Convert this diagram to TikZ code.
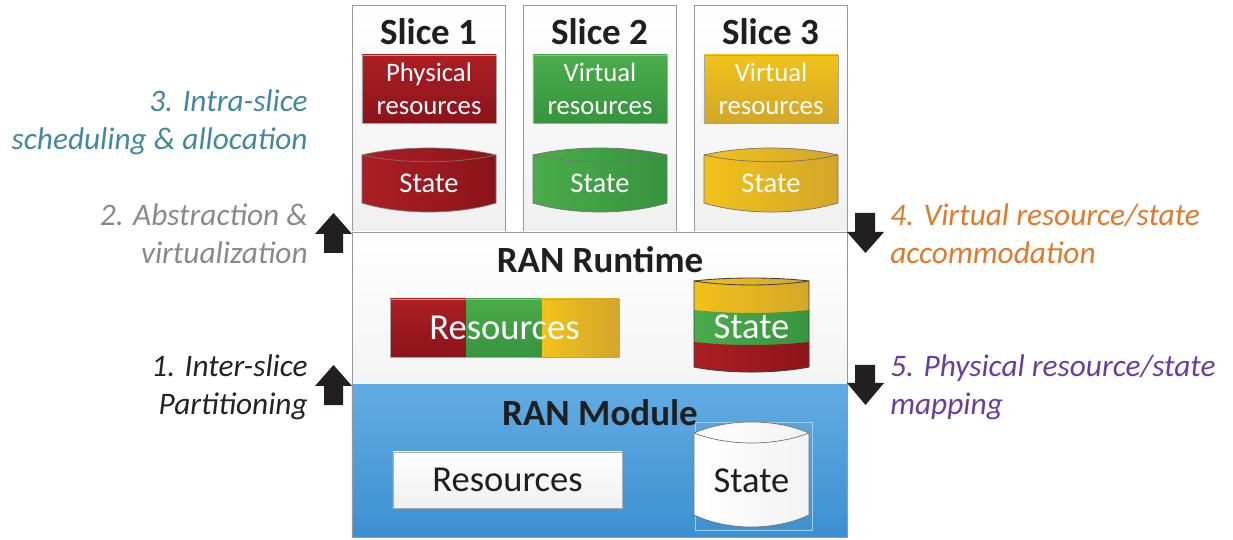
\documentclass[tikz,border=0pt]{standalone}
\usepackage{fontspec}
\setmainfont{Carlito}

\definecolor{rdA}{RGB}{172,30,36}
\definecolor{rdB}{RGB}{138,20,26}
\definecolor{grA}{RGB}{74,172,74}
\definecolor{grB}{RGB}{54,148,62}
\definecolor{yeA}{RGB}{242,194,26}
\definecolor{yeB}{RGB}{210,166,42}
\definecolor{blA}{RGB}{98,172,228}
\definecolor{blB}{RGB}{60,144,208}
\definecolor{arrowc}{RGB}{35,31,32}
\definecolor{tealc}{RGB}{66,136,160}
\definecolor{grayc}{RGB}{138,138,138}
\definecolor{darkc}{RGB}{35,35,35}
\definecolor{orangec}{RGB}{226,121,42}
\definecolor{purplec}{RGB}{106,62,160}

\begin{document}
\begin{tikzpicture}[
  x=0.025cm,y=0.025cm,
  slicebox/.style={rectangle,draw=gray!80,line width=0.6pt,top color=white,bottom color=gray!12,
                   minimum width=38.25mm,minimum height=56.75mm,inner sep=0},
  layer/.style={rectangle,draw=gray!80,line width=0.6pt,minimum width=123.75mm,inner sep=0},
  ttl/.style={font=\fontsize{26.3}{30}\selectfont\bfseries,text=black!88,inner sep=0,anchor=base},
  resbox/.style={rectangle,draw=gray!70,line width=0.5pt,minimum width=33.5mm,minimum height=17mm,
                 align=center,text=white,font=\fontsize{19}{23.5}\selectfont,inner sep=0},
  bigtxt/.style={font=\fontsize{26}{30}\selectfont,inner sep=0},
  smalltxt/.style={font=\fontsize{20.3}{24}\selectfont,inner sep=0,anchor=base,text=white},
  lbl/.style={font=\fontsize{22.3}{27}\selectfont\itshape,inner sep=0},
  cylline/.style={draw=black!55,line width=0.5pt},
  blockarr/.style={fill=arrowc},
]
\useasboundingbox (0,0) rectangle (1233,539);

% the three slices
\node[slicebox] (slice1) at (428.5,420.5) {};
\node[slicebox] (slice2) at (599.5,420.5) {};
\node[slicebox] (slice3) at (770.5,420.5) {};
\node[ttl] (ttl1) at (428.5,494) {Slice 1};
\node[ttl] (ttl2) at (599.5,494) {Slice 2};
\node[ttl] (ttl3) at (770.5,494) {Slice 3};

\node[resbox,top color=rdA,bottom color=rdB] (res1) at (429,450) {Physical\\resources};
\node[resbox,top color=grA,bottom color=grB] (res2) at (600,450) {Virtual\\resources};
\node[resbox,top color=yeA,bottom color=yeB] (res3) at (771,450) {Virtual\\resources};

\path[cylline,left color=rdA,right color=rdB] (362,384) .. controls (402,393.3) and (456,393.3) .. (496,384)
   -- (496,336) .. controls (456,324) and (402,324) .. (362,336) -- cycle;
\draw[cylline] (362,384) .. controls (402,375) and (456,375) .. (496,384);
\path[cylline,left color=grA,right color=grB] (533,384) .. controls (573,393.3) and (627,393.3) .. (667,384)
   -- (667,336) .. controls (627,324) and (573,324) .. (533,336) -- cycle;
\draw[cylline] (533,384) .. controls (573,375) and (627,375) .. (667,384);
\path[cylline,left color=yeA,right color=yeB] (704,384) .. controls (744,393.3) and (798,393.3) .. (838,384)
   -- (838,336) .. controls (798,324) and (744,324) .. (704,336) -- cycle;
\draw[cylline] (704,384) .. controls (744,375) and (798,375) .. (838,384);
\node[smalltxt] (st1) at (429,346) {State};
\node[smalltxt] (st2) at (600,346) {State};
\node[smalltxt] (st3) at (771,346) {State};

% RAN runtime layer
\node[layer,top color=white,bottom color=gray!9,minimum height=38.25mm] (runtime) at (599.5,230.5) {};
\node[ttl] (rttl) at (600,266) {RAN Runtime};
\path[top color=rdA,bottom color=rdB] (390,182) rectangle (466,240);
\path[top color=grA,bottom color=grB] (466,182) rectangle (542,240);
\path[left color=yeA,right color=yeB] (542,182) rectangle (619,240);
\node[bigtxt,text=white,draw=gray!70,line width=0.5pt,minimum width=57.25mm,minimum height=14.5mm]
   (rtres) at (504.5,211) {Resources};

\begin{scope}
  \clip (694,258) .. controls (728,262) and (775,262) .. (809,258)
     -- (809,172) .. controls (775,165.3) and (728,165.3) .. (694,172) -- cycle;
  \path[left color=yeA,right color=yeB] (690,150) rectangle (815,270);
  \path[left color=grA,right color=grB] (694,229) .. controls (728,225) and (775,225) .. (809,229)
     -- (815,229) -- (815,150) -- (690,150) -- (690,229) -- cycle;
  \path[left color=rdA,right color=rdB] (694,197) .. controls (728,193) and (775,193) .. (809,197)
     -- (815,197) -- (815,150) -- (690,150) -- (690,197) -- cycle;
\end{scope}
\draw[black!75,line width=0.6pt] (694,258) .. controls (728,262) and (775,262) .. (809,258)
   -- (809,172) .. controls (775,165.3) and (728,165.3) .. (694,172) -- cycle;
\draw[black!75,line width=0.6pt] (694,258) .. controls (728,252.7) and (775,252.7) .. (809,258);
\node[bigtxt,text=white,anchor=base] (rtst) at (751.5,200) {State};

% RAN module layer
\node[layer,top color=blA,bottom color=blB,minimum height=38mm] (module) at (599.5,78) {};
\node[ttl] (mttl) at (600,114) {RAN Module};
\node[bigtxt,text=black!88,draw=gray!65,line width=0.5pt,top color=white,bottom color=gray!12,
      minimum width=57.25mm,minimum height=14mm] (mres) at (507.5,59) {Resources};
\draw[blA!60!white,line width=0.3pt] (695,9) rectangle (812,117);
\path[cylline,left color=white,right color=gray!10] (694,106) .. controls (728,120.7) and (775,120.7) .. (809,106)
   -- (809,24) .. controls (775,8) and (728,8) .. (694,24) -- cycle;
\draw[cylline] (694,106) .. controls (728,92.7) and (775,92.7) .. (809,106);
\node[bigtxt,text=black!88,anchor=base] (mst) at (751.5,47) {State};

% block arrows
\fill[blockarr] (324,286) -- (324,305) -- (315,305) -- (333.5,326) -- (352,305) -- (343,305) -- (343,286) -- cycle;
\fill[blockarr] (324,134) -- (324,153) -- (315,153) -- (333.5,174) -- (352,153) -- (343,153) -- (343,134) -- cycle;
\fill[blockarr] (855,326) -- (855,307) -- (847,307) -- (865.5,286) -- (884,307) -- (875,307) -- (875,326) -- cycle;
\fill[blockarr] (855,174) -- (855,156) -- (847,156) -- (865.5,134) -- (884,156) -- (875,156) -- (875,174) -- cycle;

% step labels
\node[lbl,text=tealc,anchor=east,align=right] (intra) at (308,417) {3. Intra-slice\\scheduling \& allocation};
\node[lbl,text=grayc,anchor=east,align=right] (abstr) at (308,305.5) {2. Abstraction \&\\virtualization};
\node[lbl,text=darkc,anchor=east,align=right] (inter) at (308,152) {1. Inter-slice\\Partitioning};
\node[lbl,text=orangec,anchor=west,align=left] (accom) at (890,305.5) {4. Virtual resource/state\\accommodation};
\node[lbl,text=purplec,anchor=west,align=left] (mapp) at (890,151.5) {5. Physical resource/state\\mapping};
\end{tikzpicture}
\end{document}
